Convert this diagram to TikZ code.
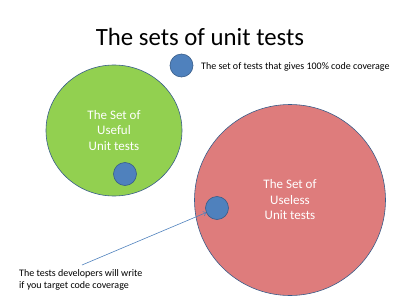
\documentclass[tikz,border=0pt]{standalone}
\usepackage{fontspec}
\setmainfont{Carlito}
\usetikzlibrary{shapes.geometric,arrows.meta}
\definecolor{usefulgreen}{RGB}{146,208,80}
\definecolor{uselessred}{RGB}{222,124,124}
\definecolor{dotblue}{RGB}{79,129,189}
\definecolor{dotborder}{RGB}{56,93,138}

\begin{document}
\begin{tikzpicture}[x=1pt,y=-1pt,
    setcircle/.style={ellipse, draw=dotborder, line width=0.6pt, inner sep=0pt, align=center, text=white, font=\fontsize{13}{15.5}\selectfont},
    testdot/.style={circle, fill=dotblue, draw=dotborder, line width=0.6pt, minimum size=23pt, inner sep=0pt},
    smalltext/.style={font=\fontsize{10}{11.8}\selectfont, inner sep=0pt, align=left}]
    \useasboundingbox (0,0) rectangle (400,300);
    % title
    \node[anchor=base, font=\fontsize{24.8}{30}\selectfont, inner sep=0pt] (title) at (200,45) {The sets of unit tests};
    % the two sets
    \node[setcircle, fill=usefulgreen, minimum width=136pt, minimum height=131pt] (useful) at (114,130.5) {The Set of\\Useful\\Unit tests};
    \node[setcircle, fill=uselessred, minimum size=191pt] (useless) at (290,200) {The Set of\\Useless\\Unit tests};
    % full coverage dots
    \node[testdot] (legenddot) at (181.5,65.5) {};
    \node[testdot] (usefuldot) at (125,174) {};
    \node[testdot] (uselessdot) at (217,208) {};
    \node[smalltext, anchor=base west] (legend) at (201,69) {The set of tests that gives 100\% code coverage};
    % note with arrow
    \node[smalltext, anchor=north west] (note) at (19,269.5) {The tests developers will write\\if you target code coverage};
    \coordinate (notetail) at (82,265);
    \draw[-{To[length=3pt,width=5pt]}, dotblue, line width=0.6pt] (notetail) -- (uselessdot);
\end{tikzpicture}
\end{document}
